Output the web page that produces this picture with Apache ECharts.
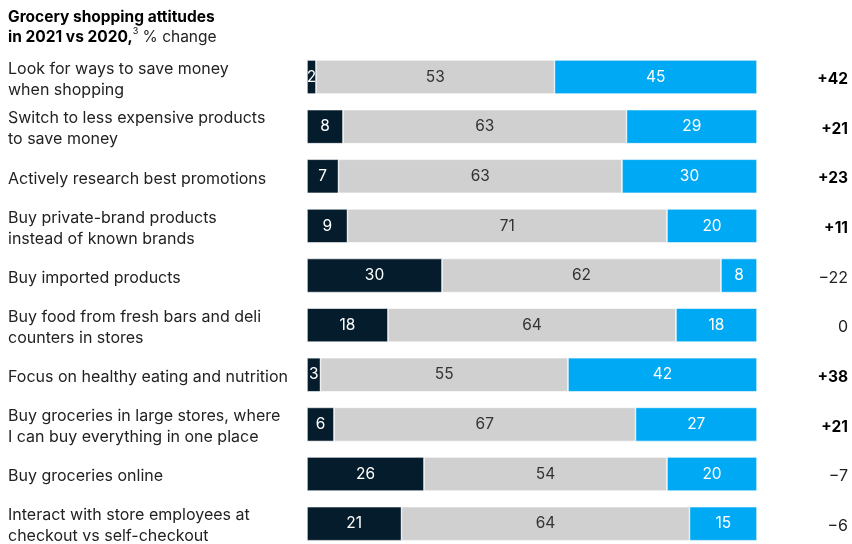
<!DOCTYPE html>
<html><head><meta charset="utf-8">
<script src="https://cdn.jsdelivr.net/npm/echarts@6/dist/echarts.min.js"></script>
<style>html,body{margin:0;padding:0;background:#fff}#c{width:852px;height:544px}</style>
</head><body><div id="c"></div>
<script>
const categories = [
  "Look for ways to save money\nwhen shopping",
  "Switch to less expensive products\nto save money",
  "Actively research best promotions",
  "Buy private-brand products\ninstead of known brands",
  "Buy imported products",
  "Buy food from fresh bars and deli\ncounters in stores",
  "Focus on healthy eating and nutrition",
  "Buy groceries in large stores, where\nI can buy everything in one place",
  "Buy groceries online",
  "Interact with store employees at\ncheckout vs self-checkout"
];
const decrease = [2, 8, 7, 9, 30, 18, 3, 6, 26, 21];
const same = [53, 63, 63, 71, 62, 64, 55, 67, 54, 64];
const increase = [45, 29, 30, 20, 8, 18, 42, 27, 20, 15];
const net = ["+42", "+21", "+23", "+11", "\u221222", "0", "+38", "+21", "\u22127", "\u22126"];

const FONT = "Inter, Liberation Sans, Arial, sans-serif";
const FS = 16;
const chart = echarts.init(document.getElementById('c'), null, {renderer: 'canvas'});
function mk(name, data, color, labelColor) {
  return {
    name, type: 'bar', stack: 'a', data, barWidth: 34,
    itemStyle: {color, borderColor: '#fff', borderWidth: 0.6},
    label: {show: true, position: 'inside', color: labelColor, fontSize: 15.5, fontFamily: FONT},
    silent: true
  };
}
chart.setOption({
  animation: false,
  graphic: [{
    type: 'text', left: 8, top: 9,
    style: {
      rich: {
        b: {fontWeight: 'bold', fontSize: 15.5, fontFamily: FONT, fill: '#000', lineHeight: 20},
        s: {fontSize: 9, fontFamily: FONT, fill: '#000', verticalAlign: 'top', lineHeight: 20},
        r: {fontSize: 15.5, fontFamily: FONT, fill: '#222', lineHeight: 20}
      },
      text: '{b|Grocery shopping attitudes}\n{b|in 2021 vs 2020,}{s|3}{r| % change}'
    }
  }],
  grid: [
    {left: 307, width: 450, top: 52.2, height: 496.3, outerBoundsMode: 'none', containLabel: false},
    {left: 307, width: 450, top: 54.7, height: 496.3, outerBoundsMode: 'none', containLabel: false}
  ],
  xAxis: [
    {type: 'value', min: 0, max: 100, show: false, gridIndex: 0},
    {type: 'value', min: 0, max: 100, show: false, gridIndex: 1}
  ],
  yAxis: [{
    type: 'category', data: categories, inverse: true, gridIndex: 0, show: false
  }, {
    type: 'category', data: categories, inverse: true, gridIndex: 1,
    axisLine: {show: false}, axisTick: {show: false}, splitLine: {show: false},
    axisLabel: {align: 'left', margin: 299, fontSize: FS, fontFamily: FONT, color: '#222', lineHeight: 21}
  }, {
    type: 'category', data: net, inverse: true, position: 'right', gridIndex: 1,
    axisLine: {show: false}, axisTick: {show: false}, splitLine: {show: false},
    axisLabel: {
      align: 'right', margin: 91, fontSize: FS, fontFamily: FONT,
      formatter: v => v.startsWith('+') ? '{b|' + v + '}' : '{r|' + v + '}',
      rich: {b: {fontWeight: 'bold', color: '#000', fontSize: 15.5, fontFamily: FONT},
             r: {color: '#222', fontSize: FS, fontFamily: FONT}}
    }
  }],
  series: [
    mk('Decrease', decrease, '#051C2C', '#fff'),
    mk('Same', same, '#D0D0D0', '#333'),
    mk('Increase', increase, '#00A9F4', '#fff')
  ]
});
</script></body></html>
